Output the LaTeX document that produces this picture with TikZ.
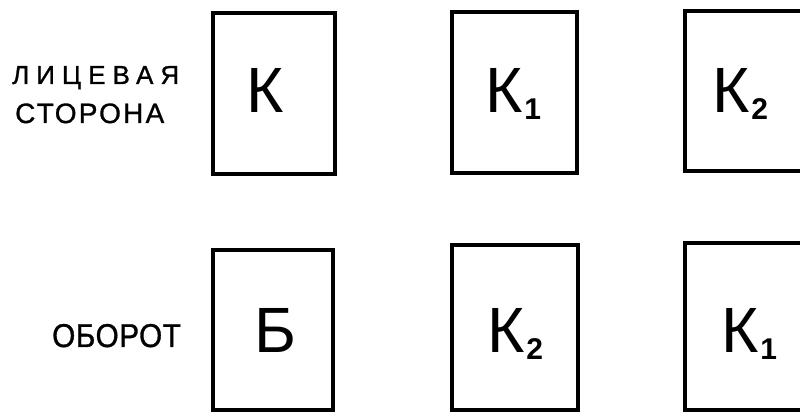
\documentclass[tikz,border=0pt]{standalone}
\usepackage{fontspec}
\setmainfont{Liberation Sans}
\newfontfamily\labfontA[LetterSpace=27,FakeBold=1]{Liberation Sans}
\newfontfamily\labfontB[LetterSpace=8,FakeBold=1]{Liberation Sans}
\newfontfamily\labfontC[LetterSpace=2,FakeBold=1]{Liberation Sans}
\newfontfamily\subfnt{Liberation Sans Bold}
\newcommand{\bigK}{\fontsize{64}{64}\selectfont}
\newcommand{\sub}[1]{\kern2pt\raisebox{-7pt}{\subfnt\fontsize{30}{30}\selectfont #1}}
\begin{document}
\begin{tikzpicture}[x=1pt,y=1pt,
  sheet/.style={draw,line width=3.2pt,rectangle,inner sep=0pt},
  letter/.style={anchor=base west,inner sep=0pt,font=\bigK},
  lab/.style={anchor=base west,inner sep=0pt}]
\useasboundingbox (0,0) rectangle (800,412);
\clip (0,0) rectangle (800,412);
% labels
\node[lab,font=\labfontA\fontsize{26}{26}\selectfont] (l1) at (12,328) {ЛИЦЕВАЯ};
\node[lab,font=\labfontB\fontsize{28}{28}\selectfont] (l2) at (15,289) {СТОРОНА};
\node[lab,font=\labfontC\fontsize{33}{33}\selectfont] (l3) at (52,65) {\scalebox{0.9}[1]{ОБОРОТ}};
% top row
\node[sheet,minimum width=122pt,minimum height=161pt] (t1) at (274,318.5) {};
\node[sheet,minimum width=125pt,minimum height=161pt] (t2) at (514.5,319.5) {};
\node[sheet,minimum width=125pt,minimum height=160pt] (t3) at (747.5,321) {};
% bottom row
\node[sheet,minimum width=120pt,minimum height=160pt] (b1) at (273,82) {};
\node[sheet,minimum width=126pt,minimum height=165pt] (b2) at (515,84.5) {};
\node[sheet,minimum width=125pt,minimum height=167pt] (b3) at (747.5,85.5) {};
% letters
\node[letter] (k) at (246,299) {К};
\node[letter] (k1) at (485,299) {К\sub{1}};
\node[letter] (k2t) at (712,299) {К\sub{2}};
\node[letter] (bb) at (254,59) {Б};
\node[letter] (k2b) at (487,59) {К\sub{2}};
\node[letter] (k1b) at (721,59) {К\sub{1}};
\end{tikzpicture}
\end{document}
